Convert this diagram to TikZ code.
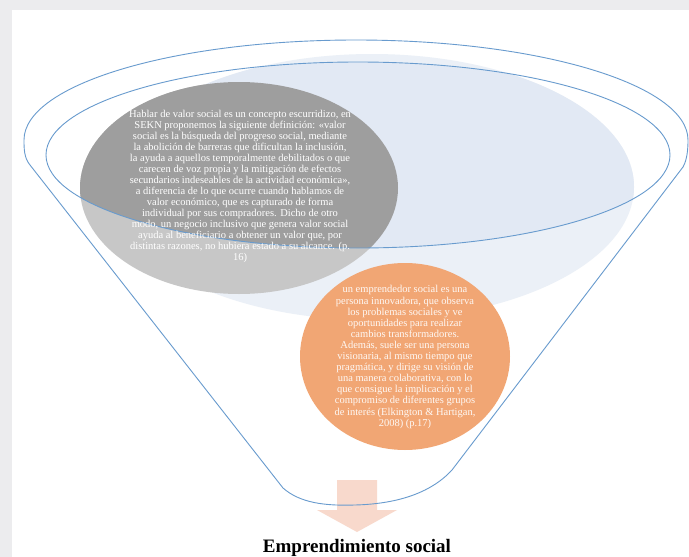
\documentclass[tikz,border=0pt]{standalone}
\usepackage{fontspec}
\setmainfont{Liberation Serif}
\usetikzlibrary{positioning,shapes.geometric,calc}

\definecolor{bggray}{RGB}{236,236,238}
\definecolor{funnelblue}{RGB}{104,155,206}
\definecolor{paleblue}{RGB}{226,233,244}
\definecolor{paleblueout}{RGB}{235,240,247}
\definecolor{ellgray}{RGB}{158,158,158}
\definecolor{ellgraylight}{RGB}{199,199,199}
\definecolor{ellorange}{RGB}{241,166,116}
\definecolor{arrowpink}{RGB}{248,217,204}

\tikzset{
  funnel/.style={funnelblue, line width=0.9pt},
  valortext/.style={align=center, text=white, inner sep=0pt,
                    font=\fontsize{10.5}{11}\selectfont},
  emprtext/.style={align=center, text=white!92!ellorange, inner sep=0pt,
                   font=\fontsize{10.5}{11.1}\selectfont},
  titletext/.style={inner sep=0pt, font=\fontsize{19}{21}\selectfont\bfseries}
}

\begin{document}
\begin{tikzpicture}[x=1pt, y=-1pt]
  % Define dimensions
  \def\Irx{312}
  \def\Iry{93}
  \useasboundingbox (0,0) rectangle (689,557);

  % Background
  \fill[bggray] (0,0) rectangle (689,557);
  \fill[white] (12,10) rectangle (689,557);

  % Define points
  \coordinate (Ic) at (358,155);   % inner ellipse
  \coordinate (Bc) at (372,187);   % pale blue ellipse
  \coordinate (Gc) at (239,188);   % gray ellipse
  \coordinate (Oc) at (405,356.5); % orange ellipse
  \coordinate (A) at (337,480);
  \coordinate (T) at (357,532);

  % Pale blue and gray ellipses (darker inside the funnel rim)
  \fill[paleblueout] (Bc) ellipse [x radius=262, y radius=133];
  \fill[ellgraylight] (Gc) ellipse [x radius=159, y radius=106];
  \begin{scope}
    \clip (Ic) ellipse [x radius=\Irx, y radius=\Iry];
    \fill[paleblue] (Bc) ellipse [x radius=262, y radius=133];
    \fill[ellgray] (Gc) ellipse [x radius=159, y radius=106];
  \end{scope}
  \fill[ellorange] (Oc) ellipse [x radius=105, y radius=93.5];

  % Draw arrow
  \fill[arrowpink] (A) -- ++(40,0) -- ++(0,30) -- ++(20,0) -- (T)
    -- ($(A)+(-20,30)$) -- ++(20,0) -- cycle;

  % Draw funnel
  \draw[funnel] (30,165) .. controls (24,158) and (24,148) .. (24,140)
    arc [start angle=180, end angle=360, x radius=332, y radius=100]
    .. controls (688,150) and (687,160) .. (683,167) -- (452,470)
    .. controls (430,494) and (395,504) .. (355,505)
    .. controls (325,506) and (300,503) .. (283,488) -- cycle;
  \draw[funnel] (Ic) ellipse [x radius=\Irx, y radius=\Iry];

  % Label ellipses
  \node[valortext] (valor) at (240,186.5) {Hablar de valor social es un concepto escurridizo, en\\
    SEKN proponemos la siguiente definición: «valor\\
    social es la búsqueda del progreso social, mediante\\
    la abolición de barreras que dificultan la inclusión,\\
    la ayuda a aquellos temporalmente debilitados o que\\
    carecen de voz propia y la mitigación de efectos\\
    secundarios indeseables de la actividad económica»,\\
    a diferencia de lo que ocurre cuando hablamos de\\
    valor económico, que es capturado de forma\\
    individual por sus compradores. Dicho de otro\\
    modo, un negocio inclusivo que genera valor social\\
    ayuda al beneficiario a obtener un valor que, por\\
    distintas razones, no hubiera estado a su alcance. (p.\\
    16)};
  \node[emprtext] (empr) at (405,357) {un emprendedor social es una\\
    persona innovadora, que observa\\
    los problemas sociales y ve\\
    oportunidades para realizar\\
    cambios transformadores.\\
    Además, suele ser una persona\\
    visionaria, al mismo tiempo que\\
    pragmática, y dirige su visión de\\
    una manera colaborativa, con lo\\
    que consigue la implicación y el\\
    compromiso de diferentes grupos\\
    de interés (Elkington \& Hartigan,\\
    2008) (p.17)};
  \node[titletext, below=7pt of T] (titulo) {Emprendimiento social};
\end{tikzpicture}
\end{document}
